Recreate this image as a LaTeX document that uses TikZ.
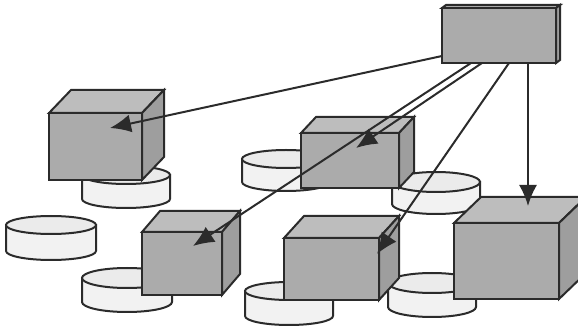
\documentclass[tikz,border=0pt]{standalone}
\usetikzlibrary{arrows.meta,shapes.geometric}
\definecolor{edgec}{gray}{0.17}
\definecolor{frontc}{gray}{0.67}
\definecolor{topc}{gray}{0.74}
\definecolor{sidec}{gray}{0.62}
\definecolor{disktopc}{gray}{0.92}
\definecolor{disksidec}{gray}{0.95}
\tikzset{
  outline/.style={draw=edgec, line width=2pt, line join=miter},
  cubefront/.style={outline, fill=frontc, rectangle, inner sep=0pt, outer sep=0pt, anchor=north west},
  cubetop/.style={outline, fill=topc},
  cubeside/.style={outline, fill=sidec},
  disktop/.style={outline, fill=disktopc},
  diskside/.style={outline, fill=disksidec},
  link/.style={draw=edgec, line width=2pt, -{Latex[length=21pt,width=18pt]}}
}
% name, x1, y1, x2, y2, dx, dy (pixel coords, y down)
\newcommand\mycube[7]{%
  \path[cubetop] (#2,#3) -- (#2+#6,#3-#7) -- (#4+#6,#3-#7) -- (#4,#3) -- cycle;
  \path[cubeside] (#4,#3) -- (#4+#6,#3-#7) -- (#4+#6,#5-#7) -- (#4,#5) -- cycle;
  \node[cubefront, minimum width={#4pt-#2pt}, minimum height={#5pt-#3pt}] (#1) at (#2,#3) {};
}
% name, cx, top cy, bottom cy, rx, ry
\newcommand\mydisk[6]{%
  \path[diskside] (#2-#5,#3) -- (#2-#5,#4) arc[start angle=180, end angle=360, x radius=#5pt, y radius=#6pt] -- (#2+#5,#3) -- cycle;
  \node[disktop, ellipse, inner sep=0pt, minimum width={2*#5pt}, minimum height={2*#6pt}] (#1) at (#2,#3) {};
}
\begin{document}
\begin{tikzpicture}[x=1pt, y=-1pt]
\useasboundingbox (0,0) rectangle (578,328);
\clip (0,0) rectangle (578,328);
% disks
\mydisk{d1}{126}{175}{199}{44}{9}
\mydisk{d2}{51}{225}{251}{45}{9}
\mydisk{d3}{127}{278}{302}{45}{10}
\mydisk{d4}{286}{159}{182}{44}{9}
\mydisk{d5}{436}{182}{204}{44}{10}
\mydisk{d6}{289}{291}{316}{44}{9}
\mydisk{d7}{432}{283}{307}{44}{10}
% cubes
\mycube{ca}{49}{113}{142}{180}{22}{23}
\mycube{cb}{301}{133}{399}{188}{15}{16}
\mycube{cc}{142}{232}{222}{295}{18}{21}
\mycube{cd}{284}{238}{379}{300}{20}{22}
\mycube{ce}{454}{223}{559}{299}{27}{26}
% server
\mycube{srv}{442}{8}{556}{63}{4}{3}
% arrow tips
\coordinate (ta) at (110,128);
\coordinate (tb) at (356,148);
\coordinate (tc) at (193,246);
\coordinate (td) at (377,254);
\coordinate (te) at (528,206);
% connectors
\draw[link] ([yshift=7pt]srv.south west) -- (ta);
\draw[link] ([xshift=29pt]srv.south west) -- (tc);
\draw[link] ([xshift=40pt]srv.south west) -- (tb);
\draw[link] ([xshift=67pt]srv.south west) -- (td);
\draw[link] ([xshift=86pt]srv.south west) -- (te);
\end{tikzpicture}
\end{document}
